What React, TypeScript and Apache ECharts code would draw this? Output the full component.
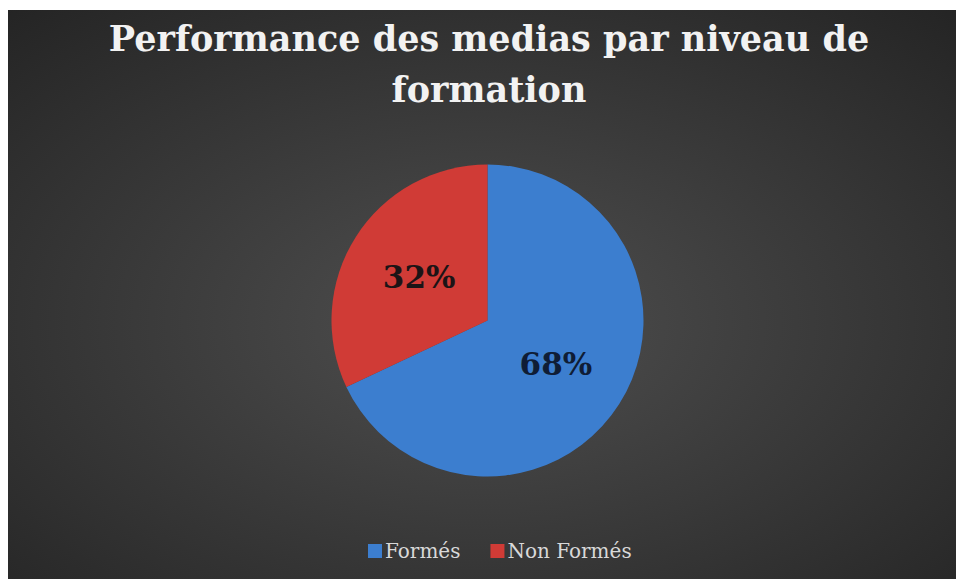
import React, { useEffect, useRef } from "react";
import * as echarts from "echarts";

const titleLines = ["Performance des medias par niveau de", "formation"];
const categories = ["Formés", "Non Formés"];
const values = [68, 32];
const sliceColors = ["#3c7ecf", "#d03b36"];
const labelColors = ["#0f1d36", "#1c1416"];

export default function App() {
  const ref = useRef<HTMLDivElement>(null);
  useEffect(() => {
    if (!ref.current) return;
    const chart = echarts.init(ref.current, null, { renderer: "svg" });
    chart.setOption({
      animation: false,
      backgroundColor: {
        type: "radial",
        x: 0.5,
        y: 0.55,
        r: 0.75,
        colorStops: [
          { offset: 0, color: "#4f4f4f" },
          { offset: 1, color: "#242424" },
        ],
      },
      title: {
        text: titleLines.join("\n"),
        left: 481,
        top: 3,
        padding: 0,
        textAlign: "center",
        textStyle: {
          fontFamily: "DejaVu Serif",
          fontWeight: "bold",
          fontSize: 35,
          lineHeight: 51,
          color: "#f2f2f2",
        },
      },
      legend: {
        data: categories,
        left: 355,
        top: 526,
        itemWidth: 14,
        itemHeight: 14,
        itemGap: 30,
        icon: "rect",
        textStyle: {
          fontFamily: "DejaVu Serif",
          fontSize: 20,
          color: "#d9d9d9",
          padding: [0, 0, 0, -2],
        },
      },
      series: [
        {
          type: "pie",
          center: [479.5, 310.5],
          radius: 156,
          startAngle: 90,
          clockwise: true,
          label: {
            show: true,
            position: "inside",
            formatter: "{c}%",
            fontFamily: "DejaVu Serif",
            fontWeight: "bold",
            fontSize: 31,
            padding: [6, 0, 0, 0],
          },
          labelLine: { show: false },
          emphasis: { disabled: true },
          data: categories.map((name, i) => ({
            name,
            value: values[i],
            itemStyle: { color: sliceColors[i] },
            label: { color: labelColors[i] },
          })),
        },
      ],
    });
    return () => chart.dispose();
  }, []);
  return (
    <div
      ref={ref}
      style={{ position: "absolute", left: 8, top: 10, width: 948, height: 569 }}
    />
  );
}
